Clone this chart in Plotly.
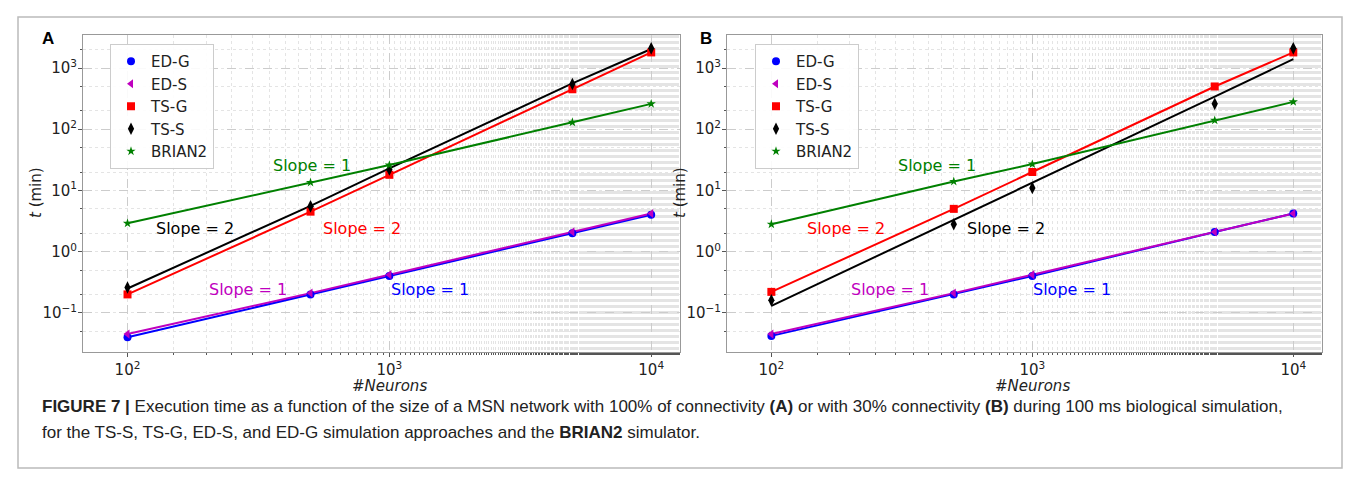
import plotly.graph_objects as go

OFF = 8
W, H = 1342, 462

neurons = [100, 500, 1000, 5000, 10000]

# panel A (100% connectivity)
a_ed_g = [0.04, 0.2, 0.4, 2.0, 4.0]
a_ed_s = [0.045, 0.21, 0.42, 2.1, 4.2]
a_ts_g = [0.2, 4.5, 18, 450, 1800]
a_ts_s = [0.26, 5.5, 22, 550, 2100]
a_ts_s_fit = [0.25, 5.6, 23, 560, 2050]
a_brian2 = [2.9, 13.5, 26, 130, 260]

# panel B (30% connectivity)
b_ed_g = [0.042, 0.2, 0.4, 2.1, 4.2]
b_ed_s = [0.045, 0.21, 0.42, 2.1, 4.2]
b_ts_g = [0.22, 5.0, 20, 500, 1800]
b_ts_s = [0.16, 2.8, 11, 260, 2100]
b_ts_s_fit = [0.13, 3.3, 13.5, 340, 1400]
b_brian2 = [2.8, 14, 27, 140, 280]

x_ticks = [100, 1000, 10000]
x_ticktext = ["10<sup>2</sup>", "10<sup>3</sup>", "10<sup>4</sup>"]
y_ticks = [0.1, 1, 10, 100, 1000]
y_ticktext = ["10<sup>−1</sup>", "10<sup>0</sup>", "10<sup>1</sup>", "10<sup>2</sup>", "10<sup>3</sup>"]

BLUE, MAG, RED, BLK, GRN = "#0000ff", "#bf00bf", "#ff0000", "#000000", "#008000"


def px_x(p):
    return (p - OFF) / W


def px_y(p):
    return 1 - (p - OFF) / H


fig = go.Figure()

panels = [
    ("x", "y", "legend", (a_ed_g, a_ed_s, a_ts_g, a_ts_s, a_ts_s_fit, a_brian2)),
    ("x2", "y2", "legend2", (b_ed_g, b_ed_s, b_ts_g, b_ts_s, b_ts_s_fit, b_brian2)),
]

for xa, ya, lg, (edg, eds, tsg, tss, tsfit, br) in panels:
    for ys, col in [(edg, BLUE), (eds, MAG), (tsg, RED), (tsfit, BLK), (br, GRN)]:
        fig.add_trace(go.Scatter(x=neurons, y=ys, mode="lines", line=dict(color=col, width=2),
                                 showlegend=False, xaxis=xa, yaxis=ya))
    for name, ys, col, sym, sz in [("ED-G", edg, BLUE, "circle", 8),
                                   ("ED-S", eds, MAG, "triangle-left", 8),
                                   ("TS-G", tsg, RED, "square", 8),
                                   ("TS-S", tss, BLK, "diamond-tall", 9),
                                   ("BRIAN2", br, GRN, "star", 7)]:
        fig.add_trace(go.Scatter(x=neurons, y=ys, mode="markers", name=name,
                                 marker=dict(color=col, symbol=sym, size=sz),
                                 xaxis=xa, yaxis=ya, legend=lg))

axis_common = dict(type="log", showline=True, linecolor="#999", mirror=True, ticks="outside",
                   ticklen=4, tickcolor="#555", showgrid=True, gridcolor="#cccccc", griddash="dash",
                   minor=dict(showgrid=True, gridcolor="#e4e4e4", griddash="dot", ticks="outside", ticklen=2),
                   tickfont=dict(size=15, color="#222", family="DejaVu Sans"), automargin=False, zeroline=False)

ydom = [px_y(352), px_y(35)]
fig.update_layout(
    xaxis=dict(axis_common, domain=[px_x(83), px_x(680)], range=[1.83, 4.11],
               tickvals=x_ticks, ticktext=x_ticktext, anchor="y"),
    yaxis=dict(axis_common, domain=ydom, range=[-1.64, 3.54], ticklabelstandoff=-2,
               tickvals=y_ticks, ticktext=y_ticktext, anchor="x"),
    xaxis2=dict(axis_common, domain=[px_x(727), px_x(1322)], range=[1.83, 4.11],
                tickvals=x_ticks, ticktext=x_ticktext, anchor="y2"),
    yaxis2=dict(axis_common, domain=ydom, range=[-1.64, 3.54], ticklabelstandoff=-2,
                tickvals=y_ticks, ticktext=y_ticktext, anchor="x2"),
)

leg = dict(bgcolor="rgba(255,255,255,0.9)", bordercolor="#ccc", borderwidth=1,
           font=dict(size=15, family="DejaVu Sans", color="#222"), tracegroupgap=0,
           xanchor="left", yanchor="top")
fig.update_layout(
    legend=dict(leg, x=px_x(110), y=px_y(44), xref="paper", yref="paper"),
    legend2=dict(leg, x=px_x(755), y=px_y(44), xref="paper", yref="paper"),
)

ann = []
slope_a = [("Slope = 1", 2.705, 1.41, GRN), ("Slope = 2", 2.257, 0.377, BLK),
           ("Slope = 2", 2.897, 0.377, RED), ("Slope = 1", 2.46, -0.62, MAG),
           ("Slope = 1", 3.157, -0.62, BLUE)]
slope_b = [("Slope = 1", 2.636, 1.41, GRN), ("Slope = 2", 2.287, 0.377, RED),
           ("Slope = 2", 2.90, 0.377, BLK), ("Slope = 1", 2.456, -0.62, MAG),
           ("Slope = 1", 3.153, -0.62, BLUE)]
for xr, yr, items in [("x", "y", slope_a), ("x2", "y2", slope_b)]:
    for t, lx, ly, c in items:
        ann.append(dict(text=t, x=lx, y=ly, xref=xr, yref=yr, showarrow=False,
                        xanchor="center", yanchor="middle",
                        font=dict(size=16, color=c, family="DejaVu Sans")))

for lbl, xp in [("A", 40), ("B", 698)]:
    ann.append(dict(text="<b>" + lbl + "</b>", x=px_x(xp), y=px_y(38), xref="paper", yref="paper",
                    showarrow=False, xanchor="left", yanchor="middle",
                    font=dict(size=17, family="Liberation Sans", color="#000")))
for xp in [390, 1032]:
    ann.append(dict(text="<i>#Neurons</i>", x=px_x(xp), y=px_y(386), xref="paper", yref="paper",
                    showarrow=False, xanchor="center", yanchor="middle",
                    font=dict(size=15, family="DejaVu Sans", color="#222")))
for xp in [36, 680]:
    ann.append(dict(text="<i>t</i> (min)", x=px_x(xp), y=px_y(193), xref="paper", yref="paper",
                    showarrow=False, textangle=-90, xanchor="center", yanchor="middle",
                    font=dict(size=15, family="DejaVu Sans", color="#222")))

cap1 = ("<b>FIGURE 7 |</b> Execution time as a function of the size of a MSN network with 100% of connectivity "
        "<b>(A)</b> or with 30% connectivity <b>(B)</b> during 100 ms biological simulation,")
cap2 = "for the TS-S, TS-G, ED-S, and ED-G simulation approaches and the <b>BRIAN2</b> simulator."
for t, yp in [(cap1, 406), (cap2, 432)]:
    ann.append(dict(text=t, x=px_x(40), y=px_y(yp), xref="paper", yref="paper", showarrow=False,
                    xanchor="left", yanchor="middle",
                    font=dict(size=17, family="Liberation Sans", color="#222")))

fig.update_layout(
    annotations=ann,
    shapes=[dict(type="rect", xref="paper", yref="paper", x0=px_x(18), x1=px_x(1342),
                 y0=px_y(468), y1=px_y(17), line=dict(color="#bbb", width=1.5), layer="below")],
    width=W, height=H, margin=dict(l=0, r=0, t=0, b=0),
    paper_bgcolor="white", plot_bgcolor="white",
)

fig.write_html("out.html")
